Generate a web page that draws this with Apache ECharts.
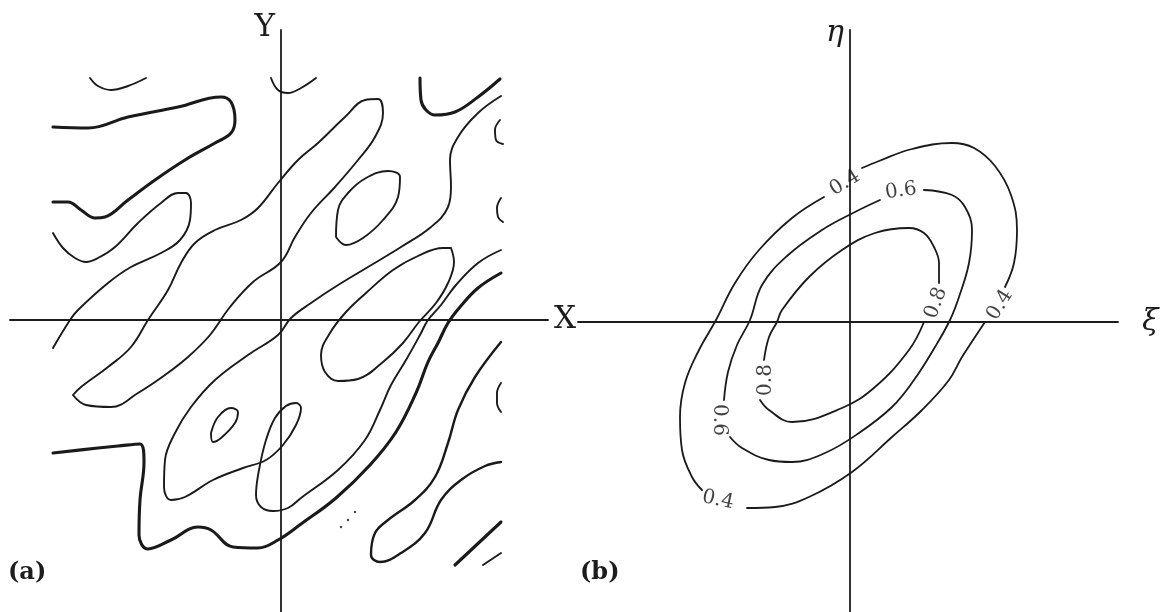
<!DOCTYPE html>
<html>
<head>
<meta charset="utf-8">
<script src="https://cdn.jsdelivr.net/npm/echarts@6.0.0/dist/echarts.min.js"></script>
<style>
  html, body { margin: 0; padding: 0; background: #ffffff; }
  #chart { width: 1164px; height: 612px; }
</style>
</head>
<body>
<div id="chart"></div>
<script>
// ---------- Panel (a): contour traces of the random field, [x, y] about the X/Y crossing ----------
const fieldArcTop = [[-191,242],[-183,234],[-170,230],[-153,234],[-135,242]];
const fieldHookUpper = [[-228,193],[-193,192],[-153,203],[-103,213],[-60,223],[-50,218],[-46,200],[-50,187],[-66,177],[-96,160],[-126,140],[-153,120],[-176,103],[-186,102],[-200,110],[-213,118],[-228,118]];
const fieldWaveLeft = [[-228,87],[-218,72],[-206,62],[-195,58],[-183,62],[-166,73],[-143,97],[-120,117],[-103,127],[-95,127],[-90,117],[-91,100],[-101,80],[-120,67],[-150,53],[-173,37],[-203,10],[-211,0],[-228,-28]];
const fieldFinger = [[-208,-75],[-200,-67],[-173,-47],[-150,-27],[-133,0],[-113,30],[-100,57],[-86,77],[-66,90],[-40,100],[-23,112],[-3,137],[17,160],[37,177],[64,203],[84,220],[97,221],[102,207],[94,183],[77,160],[54,133],[30,107],[14,83],[0,58],[-28,38],[-51,13],[-71,-15],[-93,-37],[-116,-55],[-143,-73],[-170,-87],[-195,-85],[-208,-75]];
const fieldOvalUpper = [[55,83],[57,110],[67,127],[85,142],[107,149],[119,143],[117,123],[102,100],[82,82],[65,75],[55,83]];
const fieldArcAxis = [[-10,242],[-3,230],[7,227],[20,232],[35,242]];
const fieldHookRight = [[139,242],[140,220],[145,210],[154,205],[174,208],[197,223],[219,241]];
const fieldLobe = [[170,72],[173,58],[167,37],[155,17],[138,-2],[122,-23],[102,-42],[77,-59],[57,-61],[44,-52],[40,-35],[49,-13],[65,8],[85,27],[112,50],[137,64],[162,72],[170,72]];
const fieldRidge = [[220,224],[197,207],[177,183],[169,160],[170,133],[167,113],[150,93],[120,73],[87,53],[54,33],[30,17],[10,2],[-3,-15],[-33,-35],[-66,-60],[-90,-87],[-106,-113],[-116,-140],[-117,-167],[-110,-180],[-96,-177],[-68,-160],[-38,-148],[-15,-140],[2,-125],[15,-105],[20,-88],[15,-83],[5,-86],[-6,-98],[-15,-120],[-22,-150],[-25,-175],[-20,-187],[-8,-191],[7,-188],[20,-178],[57,-150],[84,-120],[99,-90],[110,-65],[125,-40],[139,-15],[147,0],[160,15],[175,35],[197,57],[220,70]];
const fieldIsland = [[-70,-113],[-63,-97],[-50,-88],[-43,-92],[-46,-103],[-60,-118],[-68,-122],[-70,-113]];
const fieldValley = [[220,47],[197,32],[179,13],[167,-3],[157,-23],[147,-42],[135,-73],[115,-112],[89,-145],[55,-178],[20,-204],[-3,-220],[-23,-228],[-48,-227],[-70,-210],[-83,-207],[-110,-220],[-133,-229],[-142,-215],[-141,-180],[-137,-142],[-141,-124],[-163,-126],[-183,-128],[-228,-133]];
const fieldLoopRight = [[220,-22],[194,-57],[177,-90],[167,-123],[154,-157],[134,-180],[107,-200],[94,-213],[90,-235],[99,-242],[120,-233],[144,-213],[160,-180],[180,-160],[204,-146],[220,-142]];
const fieldEdgeMarks = [
  [[219,200],[214,190],[215,180],[222,176]],
  [[220,122],[216,112],[217,103],[222,98]],
  [[220,-63],[216,-73],[216,-83],[220,-92]]
];
const fieldStrokeHeavy = [[174,-245],[220,-202]];
const fieldStrokeLight = [[202,-245],[220,-233]];
const fieldSpecks = [[60,-207],[67,-200],[74,-192]];

// ---------- Panel (b): correlation contours in (xi, eta), split where the level labels sit ----------
const contour04 = [
  [[12,154],[29,161],[62,173],[102,179],[124,174],[145,156],[161,127],[167,92],[164,59],[155,35]],
  [[135,0],[125,-15],[112,-35],[99,-58],[72,-88],[42,-115],[2,-150],[-41,-175],[-75,-185],[-103,-186]],
  [[-148,-168],[-158,-155],[-168,-128],[-170,-95],[-165,-61],[-151,-28],[-134,2],[-115,39],[-91,72],[-58,104],[-26,125]]
];
const contour06 = [
  [[30,122],[5,110],[-28,92],[-63,66],[-88,37],[-100,2],[-113,-23],[-122,-50],[-126,-78]],
  [[-120,-115],[-108,-126],[-81,-138],[-58,-140],[-25,-131],[9,-111],[42,-85],[64,-58],[85,-25],[100,2],[109,25],[119,59],[122,92],[115,115],[102,127],[74,132]]
];
const contour08 = [
  [[89,39],[89,59],[84,75],[74,89],[59,94],[25,89],[-8,72],[-41,45],[-68,12],[-73,0],[-81,-15],[-86,-38]],
  [[-90,-78],[-81,-88],[-58,-100],[-8,-86],[25,-65],[59,-28],[74,0]]
];
const levelText = ['0.4', '0.4', '0.4', '0.6', '0.6', '0.8', '0.8'];
const levelAt = [[-5,139],[150,17],[-132,-178],[51,131],[-131,-98],[-84,-58],[86,19]];

// label orientation along each contour (degrees, counter-clockwise)
const levelTilt = [32, 58, -12, 8, -90, 90, 70];

const INK = '#1a1a1a';
const THIN = 1.9, MID = 2.4, THICK = 3.1;
const SERIF = "'DejaVu Serif', 'Liberation Serif', serif";

function trace(points, width, panel) {
  return {
    type: 'line', xAxisIndex: panel, yAxisIndex: panel,
    data: points, smooth: 0.4, symbol: 'none', silent: true,
    lineStyle: { color: INK, width: width, cap: 'round', join: 'round' },
    z: 3
  };
}

function axisPair(panel, xr, yr, xName, yName, italic) {
  const line = { show: true, onZero: true, lineStyle: { color: '#1c1c1c', width: 1.8 } };
  const hidden = { axisTick: { show: false }, axisLabel: { show: false }, splitLine: { show: false } };
  return {
    x: Object.assign({
      type: 'value', gridIndex: panel, min: xr[0], max: xr[1], axisLine: line,
      name: xName, nameLocation: 'end', nameGap: italic ? 24 : 6,
      nameTextStyle: { fontFamily: SERIF, fontSize: italic ? 30 : 31, fontStyle: italic ? 'italic' : 'normal',
                       color: '#1c1c1c', verticalAlign: 'middle', padding: italic ? [6, 0, 0, 0] : 0 }
    }, hidden),
    y: Object.assign({
      type: 'value', gridIndex: panel, min: yr[0], max: yr[1], axisLine: line,
      name: yName, nameLocation: 'end', nameGap: italic ? -3 : 2,
      nameTextStyle: { fontFamily: SERIF, fontSize: italic ? 30 : 31, fontStyle: italic ? 'italic' : 'normal',
                       color: '#1c1c1c', align: 'right', verticalAlign: 'middle', padding: [0, 6, 0, 0] }
    }, hidden)
  };
}

const axA = axisPair(0, [-271, 267], [-292, 290], 'X', 'Y', false);
const axB = axisPair(1, [-272, 268], [-290, 292], 'ξ', 'η', true);

const series = [];
// panel (a)
[fieldArcTop, fieldWaveLeft, fieldFinger, fieldOvalUpper, fieldArcAxis, fieldLobe, fieldRidge, fieldIsland]
  .forEach(p => series.push(trace(p, THIN, 0)));
fieldEdgeMarks.forEach(p => series.push(trace(p, THIN, 0)));
series.push(trace(fieldStrokeLight, THIN, 0));
[fieldHookUpper, fieldHookRight, fieldValley, fieldStrokeHeavy].forEach(p => series.push(trace(p, THICK, 0)));
series.push(trace(fieldLoopRight, MID, 0));
series.push({
  type: 'scatter', xAxisIndex: 0, yAxisIndex: 0, data: fieldSpecks,
  symbolSize: 2.5, itemStyle: { color: INK }, silent: true
});
// panel (b)
[contour04, contour06, contour08].forEach(level =>
  level.forEach(seg => series.push(trace(seg, 1.8, 1))));
series.push({
  type: 'scatter', xAxisIndex: 1, yAxisIndex: 1, symbolSize: 0, silent: true,
  data: levelAt.map((p, i) => ({
    value: p,
    label: {
      show: true, position: 'inside', formatter: levelText[i], rotate: levelTilt[i],
      fontFamily: SERIF, fontSize: 20, color: '#111111'
    }
  }))
});

const chart = echarts.init(document.getElementById('chart'), null, { renderer: 'canvas' });
chart.setOption({
  backgroundColor: '#ffffff',
  animation: false,
  title: [
    { text: '(a)', left: 8, top: 561, padding: 0,
      textStyle: { fontFamily: SERIF, fontWeight: 'bold', fontSize: 24, color: '#1c1c1c' } },
    { text: '(b)', left: 580, top: 561, padding: 0,
      textStyle: { fontFamily: SERIF, fontWeight: 'bold', fontSize: 24, color: '#1c1c1c' } }
  ],
  grid: [
    { left: 10, top: 30, width: 538, height: 582, containLabel: false },
    { left: 578, top: 30, width: 540, height: 582, containLabel: false }
  ],
  xAxis: [axA.x, axB.x],
  yAxis: [axA.y, axB.y],
  series: series
});
</script>
</body>
</html>
